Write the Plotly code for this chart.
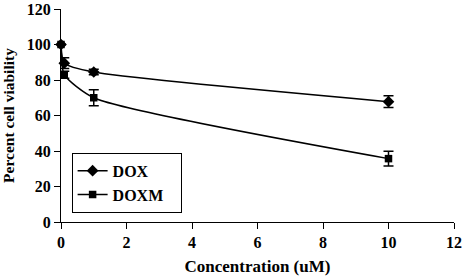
import plotly.graph_objects as go

conc = [0, 0.1, 1, 10]
dox = [100, 89.5, 84.5, 67.8]
dox_err = [0, 3, 1.5, 3.3]
doxm = [100, 83, 70, 35.7]
doxm_err = [0, 2, 4.5, 4.2]

x_ticks = [0, 2, 4, 6, 8, 10, 12]
y_ticks = [0, 20, 40, 60, 80, 100, 120]

font_fam = "Liberation Serif"

fig = go.Figure()
fig.add_trace(go.Scatter(
    x=conc, y=dox, name="<b>DOX</b>&nbsp;&nbsp;&nbsp;", mode="lines+markers",
    line=dict(color="black", width=1.5, shape="spline", smoothing=0.6),
    marker=dict(symbol="diamond", size=9, color="black"),
    error_y=dict(type="data", array=dox_err, color="black", thickness=1.5, width=5),
    cliponaxis=False, legendgroup="a",
))
fig.add_trace(go.Scatter(
    x=conc, y=doxm, name="<b>DOXM</b>&nbsp;&nbsp;&nbsp;", mode="lines+markers",
    line=dict(color="black", width=1.5, shape="spline", smoothing=0.6),
    marker=dict(symbol="square", size=7.5, color="black"),
    error_y=dict(type="data", array=doxm_err, color="black", thickness=1.5, width=5),
    cliponaxis=False, legendgroup="b",
))

fig.update_layout(
    width=464, height=276,
    margin=dict(l=61, r=10, t=9, b=54, autoexpand=False),
    paper_bgcolor="white", plot_bgcolor="white",
    font=dict(family=font_fam, color="black", size=16),
    showlegend=True,
    legend=dict(
        x=0.027, y=0.325, xanchor="left", yanchor="top",
        bordercolor="black", borderwidth=1, bgcolor="white",
        font=dict(family=font_fam, size=16, color="black"),
        traceorder="grouped", tracegroupgap=0,
    ),
    xaxis=dict(
        range=[0, 12], tickvals=x_ticks, ticktext=[f"<b>{v}</b>" for v in x_ticks],
        ticks="outside", ticklen=6, automargin=False,
        tickcolor="black", showline=True, linecolor="black", linewidth=1.3,
        showgrid=False, zeroline=False,
        tickfont=dict(family=font_fam, size=16, weight="bold"),
        title=dict(text="<b>Concentration (uM)</b>", font=dict(family=font_fam, size=17), standoff=10),
    ),
    yaxis=dict(
        range=[0, 120], tickvals=y_ticks, ticktext=[f"<b>{v}</b>" for v in y_ticks],
        ticks="outside", ticklen=6, automargin=False,
        tickcolor="black", showline=True, linecolor="black", linewidth=1.3,
        showgrid=False, zeroline=False,
        tickfont=dict(family=font_fam, size=16, weight="bold"),
        title=dict(text="<b>Percent cell viability</b>", font=dict(family=font_fam, size=15.5), standoff=8),
    ),
)

fig.write_html("out.html", config={"displayModeBar": False},
               post_script="document.body.style.margin='0';document.body.style.padding='0';")
